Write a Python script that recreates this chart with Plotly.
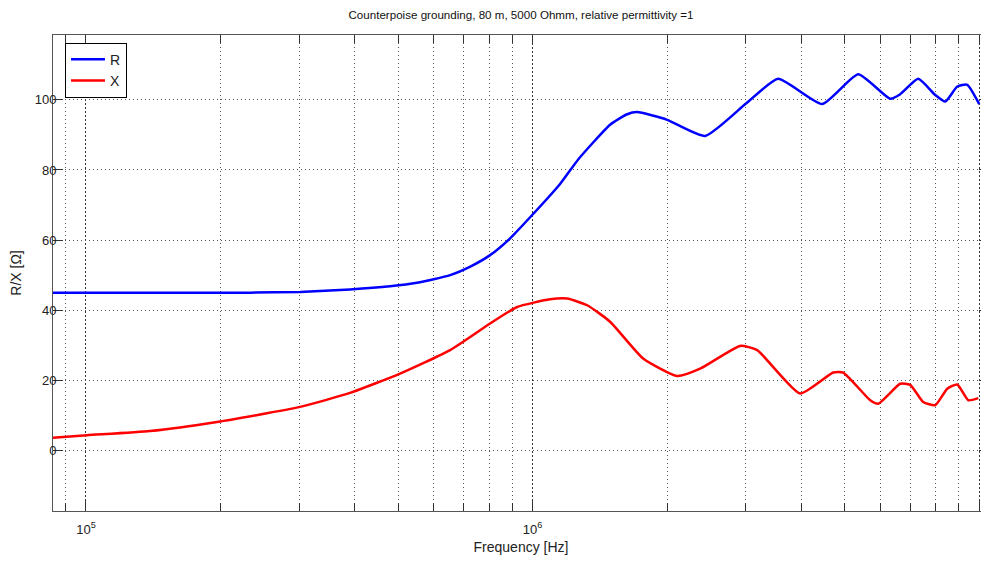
import plotly.graph_objects as go

# ---- data ----
freq_R = [84370, 139100, 232900, 301600, 390200, 479600, 551200, 653600, 727000, 803100,
          890500, 987200, 1152000, 1265000, 1491000, 1628000, 1714000, 2001000,
          2434000, 3008000, 3546000, 4450000, 5358000, 6318000, 6653000, 7300000,
          7970000, 8391000, 8929000, 9400000, 10000000]
R_vals = [45.0, 45.0, 45.0, 45.2, 45.9, 46.8, 47.8, 50.0, 52.5, 55.7,
          60.5, 66.5, 76.0, 83.0, 92.9, 95.9, 96.5, 94.3,
          89.7, 99.0, 106.0, 98.8, 107.3, 100.3, 101.6, 106.0,
          101.4, 99.5, 103.8, 104.3, 98.8]

freq_X = [84370, 100500, 139100, 196600, 301600, 390200, 505000, 653600, 803100,
          923000, 1094000, 1195000, 1325000, 1491000, 1768000, 2107000, 2372000,
          2915000, 3183000, 3972000, 4710000, 4960000, 5700000, 5940000, 6653000,
          7005000, 7490000, 7970000, 8478000, 8929000, 9450000, 9950000]
X_vals = [3.6, 4.3, 5.5, 8.1, 12.4, 16.4, 21.9, 28.6, 36.2,
          40.9, 43.1, 43.3, 41.4, 36.7, 26.2, 21.2, 23.3,
          29.8, 28.6, 16.2, 22.2, 22.2, 14.3, 13.3, 19.0,
          18.7, 13.8, 12.9, 17.6, 18.8, 14.3, 14.9]

x_major_ticks = [1e5, 1e6, 1e7]
x_major_labels = ["10<sup>5</sup>", "10<sup>6</sup>", "10<sup>7</sup>"]
x_minor_ticks = [9e4] + [k * 1e5 for k in range(2, 10)] + [k * 1e6 for k in range(2, 10)]
y_ticks = [0, 20, 40, 60, 80, 100]

TITLE = "Counterpoise grounding, 80 m, 5000 Ohmm, relative permittivity =1"
FONT = "Liberation Sans, Arial, sans-serif"

# the page has an 8px body margin, so the figure is 8px smaller than the window
W, H = 981, 558

fig = go.Figure()
fig.add_trace(go.Scatter(x=freq_R, y=R_vals, mode="lines", name="R",
                         line=dict(color="#0000FF", width=2.5, shape="spline", smoothing=0.5)))
fig.add_trace(go.Scatter(x=freq_X, y=X_vals, mode="lines", name="X",
                         line=dict(color="#FF0000", width=2.5, shape="spline", smoothing=0.5)))

fig.update_layout(
    width=W, height=H,
    margin=dict(l=45, r=0, t=27, b=55),
    paper_bgcolor="white", plot_bgcolor="white",
    font=dict(family=FONT, size=13, color="#222222"),
    title=dict(text=TITLE, x=0.5, xref="paper", xanchor="center",
               y=1 - 7 / H, yref="container", yanchor="middle",
               font=dict(family=FONT, size=11.6, color="#111111")),
    showlegend=True,
    legend=dict(x=0.0128, y=0.984, xanchor="left", yanchor="top",
                bgcolor="white", bordercolor="black", borderwidth=1,
                font=dict(family=FONT, size=14, color="#222222"),
                itemwidth=34, tracegroupgap=0),
)

fig.update_xaxes(
    type="log", range=[4.9262, 7.0218], automargin=False,
    tickmode="array", tickvals=x_major_ticks, ticktext=x_major_labels,
    ticks="inside", ticklen=10, tickcolor="#333333", ticklabelstandoff=6,
    showline=True, linecolor="#555555", linewidth=1, mirror="ticks",
    showgrid=True, gridcolor="#333333", griddash="2px,2px", gridwidth=1,
    zeroline=False,
    tickfont=dict(family=FONT, size=13, color="#222222"),
    title=dict(text="Frequency [Hz]", font=dict(family=FONT, size=14, color="#222222"), standoff=6),
    minor=dict(tickmode="array", tickvals=x_minor_ticks, ticks="inside", ticklen=8,
               tickcolor="#333333", showgrid=True, gridcolor="#555555",
               griddash="1px,3px", gridwidth=1),
)

fig.update_yaxes(
    range=[-17.3, 118.5], automargin=False,
    tickmode="array", tickvals=y_ticks,
    ticks="inside", ticklen=10, tickcolor="#333333", ticklabelstandoff=-7,
    showline=True, linecolor="#555555", linewidth=1, mirror="ticks",
    showgrid=True, gridcolor="#555555", griddash="1px,3px", gridwidth=1,
    zeroline=False,
    tickfont=dict(family=FONT, size=13, color="#222222"),
    title=dict(text="R/X [Ω]", font=dict(family=FONT, size=14, color="#222222"), standoff=9),
)

fig.write_html("out.html")
